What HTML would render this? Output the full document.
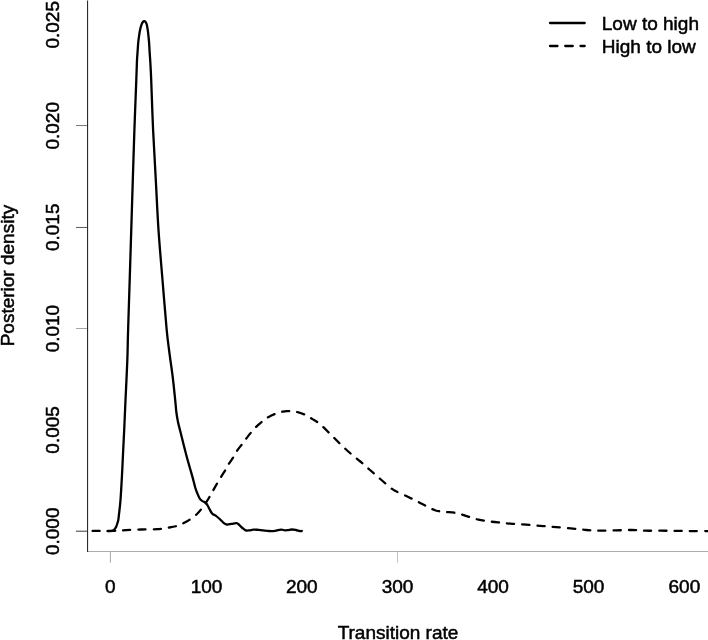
<!DOCTYPE html>
<html lang="en">
<head>
<meta charset="utf-8">
<title>Posterior density of transition rates</title>
<style>
html,body{margin:0;padding:0;background:#fff;}
body{width:708px;height:640px;overflow:hidden;}
svg{display:block;will-change:transform;}
text{font-family:"Liberation Sans",Arial,Helvetica,sans-serif;font-size:19.0px;fill:#000;stroke:#000;stroke-width:0.5px;}
</style>
</head>
<body>
<svg width="708" height="640" viewBox="0 0 708 640">
<rect x="0" y="0" width="708" height="640" fill="#ffffff"/>
<!-- y ticks -->
<line x1="76" y1="531.2" x2="88" y2="531.2" stroke="#383838" stroke-width="1"/>
<line x1="76" y1="328.5" x2="88" y2="328.5" stroke="#9c9c9c" stroke-width="0.9"/>
<line x1="76" y1="227.45" x2="88" y2="227.45" stroke="#484848" stroke-width="0.9"/>
<line x1="76" y1="125.55" x2="88" y2="125.55" stroke="#686868" stroke-width="0.9"/>
<!-- axes -->
<line x1="87" y1="551.5" x2="708" y2="551.5" stroke="#acacac" stroke-width="1"/>
<line x1="87.55" y1="0.6" x2="87.55" y2="552" stroke="#2b2b2b" stroke-width="1.1"/>
<!-- x ticks -->
<line x1="110.4" y1="552" x2="110.4" y2="562.8" stroke="#a8a8a8" stroke-width="1"/>
<line x1="397.5" y1="552" x2="397.5" y2="562.8" stroke="#c4c4c4" stroke-width="1"/>
<!-- x tick labels -->
<g text-anchor="middle">
<text x="110.4" y="593.2">0</text>
<text x="206.6" y="593.2">100</text>
<text x="301.8" y="593.2">200</text>
<text x="397.5" y="593.2">300</text>
<text x="493.0" y="593.2">400</text>
<text x="588.6" y="593.2">500</text>
<text x="684.4" y="593.2">600</text>
<text x="398" y="638.6">Transition rate</text>
</g>
<!-- y tick labels -->
<g text-anchor="middle">
<text transform="translate(59.4 531.3) rotate(-90)">0.000</text>
<text transform="translate(59.4 429.9) rotate(-90)">0.005</text>
<text transform="translate(59.4 328.6) rotate(-90)">0.010</text>
<text transform="translate(59.4 227.3) rotate(-90)">0.015</text>
<text transform="translate(59.4 125.8) rotate(-90)">0.020</text>
<text transform="translate(59.4 24.8) rotate(-90)">0.025</text>
<text transform="translate(14.2 275.6) rotate(-90)">Posterior density</text>
</g>
<!-- curves -->
<path d="M92.60 530.90C96.50 530.88 110.43 530.93 116.00 530.80C121.57 530.67 121.83 530.32 126.00 530.10C130.17 529.88 135.83 529.65 141.00 529.50C146.17 529.35 152.50 529.50 157.00 529.20C161.50 528.90 164.83 528.20 168.00 527.70C171.17 527.20 173.60 526.87 176.00 526.20C178.40 525.53 180.17 524.75 182.40 523.70C184.63 522.65 186.97 521.52 189.40 519.90C191.83 518.28 194.80 516.08 197.00 514.00C199.20 511.92 200.72 509.90 202.60 507.40C204.48 504.90 206.42 502.05 208.30 499.00C210.18 495.95 212.02 492.40 213.90 489.10C215.78 485.80 217.63 482.45 219.60 479.20C221.57 475.95 224.13 472.20 225.70 469.60C227.27 467.00 227.63 465.78 229.00 463.60C230.37 461.42 232.48 458.75 233.90 456.50C235.32 454.25 236.08 452.22 237.50 450.10C238.92 447.98 240.88 445.80 242.40 443.80C243.92 441.80 245.07 440.10 246.60 438.10C248.13 436.10 249.88 433.80 251.60 431.80C253.32 429.80 255.02 427.92 256.90 426.10C258.78 424.28 260.93 422.43 262.90 420.90C264.87 419.37 266.43 418.15 268.70 416.90C270.97 415.65 274.13 414.28 276.50 413.40C278.87 412.52 281.07 411.97 282.90 411.60C284.73 411.23 285.98 411.25 287.50 411.20C289.02 411.15 290.18 411.12 292.00 411.30C293.82 411.48 296.03 411.63 298.40 412.30C300.77 412.97 303.85 414.17 306.20 415.30C308.55 416.43 310.20 417.65 312.50 419.10C314.80 420.55 317.08 421.56 320.00 424.00C322.92 426.44 326.67 430.46 330.00 433.75C333.33 437.04 336.67 440.54 340.00 443.75C343.33 446.96 346.67 450.08 350.00 453.00C353.33 455.92 356.67 458.42 360.00 461.25C363.33 464.08 366.67 467.08 370.00 470.00C373.33 472.92 376.67 475.87 380.00 478.75C383.33 481.63 387.50 485.29 390.00 487.30C392.50 489.31 392.28 489.35 395.00 490.80C397.72 492.25 402.53 494.20 406.30 496.00C410.07 497.80 414.22 499.90 417.60 501.60C420.98 503.30 423.58 504.72 426.60 506.20C429.62 507.68 432.68 509.57 435.70 510.50C438.72 511.43 441.32 511.38 444.70 511.80C448.08 512.22 452.23 512.25 456.00 513.00C459.77 513.75 463.53 515.18 467.30 516.30C471.07 517.42 474.83 518.83 478.60 519.70C482.37 520.57 486.13 521.00 489.90 521.50C493.67 522.00 497.43 522.32 501.20 522.70C504.97 523.08 508.35 523.47 512.50 523.80C516.65 524.13 521.58 524.37 526.10 524.70C530.62 525.03 535.20 525.45 539.60 525.80C544.00 526.15 547.33 526.37 552.50 526.80C557.67 527.23 564.95 527.87 570.60 528.40C576.25 528.93 581.50 529.62 586.40 530.00C591.30 530.38 595.10 530.63 600.00 530.70C604.90 530.77 610.53 530.52 615.80 530.40C621.07 530.28 626.70 529.95 631.60 530.00C636.50 530.05 640.30 530.58 645.20 530.70C650.10 530.82 655.73 530.67 661.00 530.70C666.27 530.73 671.53 530.83 676.80 530.90C682.07 530.97 687.07 531.07 692.60 531.10C698.13 531.13 707.10 531.10 710.00 531.10" fill="none" stroke="#000" stroke-width="2.3" stroke-dasharray="7.2 8.065" stroke-linecap="round" stroke-linejoin="round"/>
<path d="M107.50 531.20C107.92 531.18 109.25 531.15 110.00 531.10C110.75 531.05 111.40 531.03 112.00 530.90C112.60 530.77 113.13 530.62 113.60 530.30C114.07 529.98 114.37 529.58 114.80 529.00C115.23 528.42 115.78 527.72 116.20 526.80C116.62 525.88 116.95 524.63 117.30 523.50C117.65 522.37 118.03 521.42 118.30 520.00C118.57 518.58 118.53 518.33 118.90 515.00C119.27 511.67 119.98 506.67 120.50 500.00C121.02 493.33 121.55 483.33 122.00 475.00C122.45 466.67 122.83 457.50 123.20 450.00C123.57 442.50 123.82 438.33 124.20 430.00C124.58 421.67 124.98 411.50 125.50 400.00C126.02 388.50 126.87 372.67 127.30 361.00C127.73 349.33 127.70 343.50 128.10 330.00C128.50 316.50 129.17 296.67 129.70 280.00C130.22 263.33 130.73 246.67 131.25 230.00C131.77 213.33 132.28 196.67 132.80 180.00C133.33 163.33 133.82 146.67 134.40 130.00C134.98 113.33 135.87 91.62 136.30 80.00C136.73 68.38 136.78 65.03 137.00 60.30C137.22 55.57 137.40 54.52 137.60 51.60C137.80 48.68 137.97 45.35 138.20 42.80C138.43 40.25 138.68 38.48 139.00 36.30C139.32 34.12 139.65 31.72 140.10 29.70C140.55 27.68 141.22 25.53 141.70 24.20C142.18 22.87 142.58 22.22 143.00 21.70C143.42 21.18 143.80 21.10 144.20 21.10C144.60 21.10 144.98 21.18 145.40 21.70C145.82 22.22 146.32 22.87 146.70 24.20C147.08 25.53 147.40 27.68 147.70 29.70C148.00 31.72 148.27 34.12 148.50 36.30C148.73 38.48 148.92 40.25 149.10 42.80C149.28 45.35 149.42 48.68 149.60 51.60C149.78 54.52 150.02 57.38 150.20 60.30C150.38 63.22 150.53 65.82 150.70 69.10C150.87 72.38 150.80 69.85 151.20 80.00C151.60 90.15 152.33 113.33 153.10 130.00C153.87 146.67 154.90 163.33 155.80 180.00C156.70 196.67 157.38 213.33 158.50 230.00C159.62 246.67 161.13 263.33 162.50 280.00C163.87 296.67 165.53 317.77 166.70 330.00C167.87 342.23 168.50 345.58 169.50 353.40C170.50 361.22 171.75 369.13 172.70 376.90C173.65 384.67 174.58 394.07 175.20 400.00C175.82 405.93 175.93 408.85 176.40 412.50C176.87 416.15 177.35 418.77 178.00 421.90C178.65 425.02 179.40 427.61 180.30 431.25C181.20 434.89 182.35 439.58 183.40 443.75C184.45 447.92 185.55 452.34 186.60 456.25C187.65 460.16 188.67 463.56 189.70 467.20C190.73 470.84 191.88 474.72 192.80 478.10C193.72 481.48 194.47 485.02 195.20 487.50C195.93 489.98 196.42 491.12 197.20 493.00C197.98 494.88 198.95 497.40 199.90 498.80C200.85 500.20 201.92 500.75 202.90 501.40C203.88 502.05 204.82 501.65 205.80 502.70C206.78 503.75 207.75 505.88 208.80 507.70C209.85 509.52 210.95 512.28 212.10 513.60C213.25 514.92 214.43 514.70 215.70 515.60C216.97 516.50 218.38 517.78 219.70 519.00C221.02 520.22 222.45 521.98 223.60 522.90C224.75 523.82 225.28 524.33 226.60 524.50C227.92 524.67 229.85 524.13 231.50 523.90C233.15 523.67 235.18 522.90 236.50 523.10C237.82 523.30 238.42 524.28 239.40 525.10C240.38 525.92 241.33 527.12 242.40 528.00C243.47 528.88 244.65 530.00 245.80 530.40C246.95 530.80 248.05 530.53 249.30 530.40C250.55 530.27 251.82 529.70 253.30 529.60C254.78 529.50 256.55 529.67 258.20 529.80C259.85 529.93 261.38 530.20 263.20 530.40C265.02 530.60 267.13 530.93 269.10 531.00C271.07 531.07 273.02 531.03 275.00 530.80C276.98 530.57 279.35 529.68 281.00 529.60C282.65 529.52 283.75 530.22 284.90 530.30C286.05 530.38 286.75 530.23 287.90 530.10C289.05 529.97 290.48 529.52 291.80 529.50C293.12 529.48 294.48 529.75 295.80 530.00C297.12 530.25 298.70 530.83 299.70 531.00C300.70 531.17 301.45 531.00 301.80 531.00" fill="none" stroke="#000" stroke-width="2.3" stroke-linecap="round" stroke-linejoin="round"/>
<!-- legend -->
<line x1="550" y1="23.0" x2="584.7" y2="23.0" stroke="#000" stroke-width="2.3" stroke-linecap="round"/>
<line x1="550" y1="46" x2="584.7" y2="46" stroke="#000" stroke-width="2.3" stroke-dasharray="7.5 7.75" stroke-linecap="round"/>
<text x="601.8" y="29.6">Low to high</text>
<text x="601.8" y="52.8">High to low</text>
</svg>
</body>
</html>
